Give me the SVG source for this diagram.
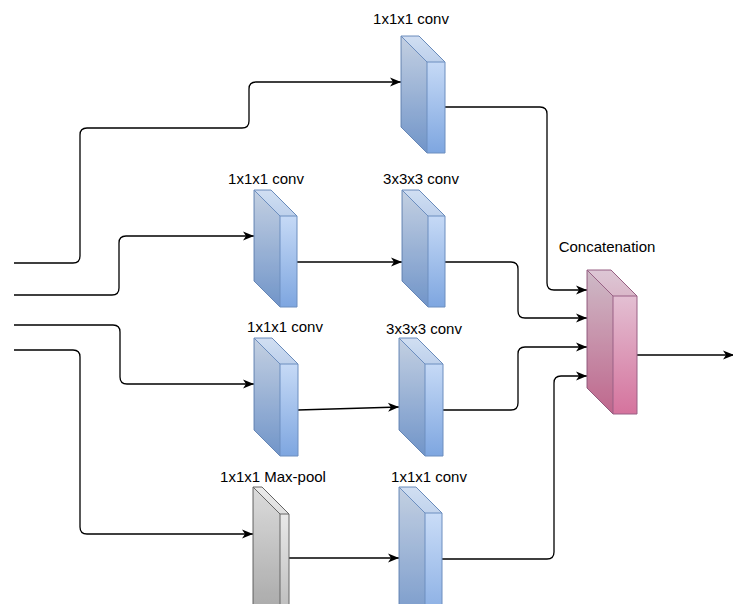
<svg xmlns="http://www.w3.org/2000/svg" width="733" height="604" viewBox="0 0 733 604">
<defs>
<linearGradient id="gBlue" x1="0" y1="0" x2="0" y2="1"><stop offset="0" stop-color="#dae8fc"/><stop offset="1" stop-color="#7ea6e0"/></linearGradient>
<linearGradient id="gPink" x1="0" y1="0" x2="0" y2="1"><stop offset="0" stop-color="#e6d0de"/><stop offset="1" stop-color="#d5739d"/></linearGradient>
<linearGradient id="gGray" x1="0" y1="0" x2="0" y2="1"><stop offset="0" stop-color="#f5f5f5"/><stop offset="1" stop-color="#b3b3b3"/></linearGradient>
<marker id="arr" viewBox="-12 -6 13 12" refX="0" refY="0" markerWidth="13" markerHeight="12" markerUnits="userSpaceOnUse" orient="auto">
<path d="M0,0 L-11,-4.5 L-8,0 L-11,4.5 Z" fill="#000"/>
</marker>
<style>
.lbl{font-family:"Liberation Sans",Arial,sans-serif;font-size:15px;fill:#000;text-anchor:middle}
.blue .o{fill:url(#gBlue);stroke:#6c8ebf}
.pink .o{fill:url(#gPink);stroke:#996185}
.gray .o{fill:url(#gGray);stroke:#666666}
.side{fill:#000;fill-opacity:0.1;stroke:none}
.top{fill:#000;fill-opacity:0.04;stroke:none}
.blue .e{fill:none;stroke:#6c8ebf}
.pink .e{fill:none;stroke:#996185}
.gray .e{fill:none;stroke:#666666}
.c{fill:none;stroke:#000;stroke-width:1.3;marker-end:url(#arr)}
.cn{fill:none;stroke:#000;stroke-width:1.3}
</style>
</defs>
<rect width="733" height="604" fill="#fff"/>

<g id="connectors">
<path class="c" d="M14,263 H73 Q80,263 80,256 V135 Q80,128 87,128 H242 Q249,128 249,121 V89 Q249,82 256,82 H401"/>
<path class="c" d="M14,295 H112 Q119,295 119,288 V243 Q119,236 126,236 H254"/>
<path class="c" d="M14,325 H113 Q120,325 120,332 V377 Q120,384 127,384 H254"/>
<path class="c" d="M14,350 H73 Q80,350 80,357 V527 Q80,534 87,534 H253"/>
<path class="c" d="M297,262 H402"/>
<path class="c" d="M298,410 L399,407"/>
<path class="c" d="M289,558 H399"/>
<path class="c" d="M445,107 H540 Q547,107 547,114 V283 Q547,290 554,290 H587"/>
<path class="c" d="M445,262 H511 Q518,262 518,269 V311 Q518,318 525,318 H587"/>
<path class="c" d="M443,410 H511 Q518,410 518,403 V354 Q518,347 525,347 H587"/>
<path class="c" d="M442,559 H547 Q554,559 554,552 V383 Q554,376 561,376 H587"/>
<path class="c" d="M637,355 H734"/>
</g>

<g id="conv-top" class="blue">
<path class="o" d="M401,36 L419,36 L445,62 L445,153 L427,153 L401,127 Z"/>
<path class="side" d="M401,36 L427,62 L427,153 L401,127 Z"/>
<path class="top" d="M401,36 L419,36 L445,62 L427,62 Z"/>
<path class="e" d="M401,36 L427,62 L445,62 M427,62 L427,153"/>
<text class="lbl" x="411" y="24">1x1x1 conv</text>
</g>

<g id="conv-b1" class="blue">
<path class="o" d="M254,190 L271,190 L297,216 L297,307 L280,307 L254,281 Z"/>
<path class="side" d="M254,190 L280,216 L280,307 L254,281 Z"/>
<path class="top" d="M254,190 L271,190 L297,216 L280,216 Z"/>
<path class="e" d="M254,190 L280,216 L297,216 M280,216 L280,307"/>
<text class="lbl" x="266" y="184">1x1x1 conv</text>
</g>

<g id="conv-b2" class="blue">
<path class="o" d="M402,190 L419,190 L445,216 L445,307 L428,307 L402,281 Z"/>
<path class="side" d="M402,190 L428,216 L428,307 L402,281 Z"/>
<path class="top" d="M402,190 L419,190 L445,216 L428,216 Z"/>
<path class="e" d="M402,190 L428,216 L445,216 M428,216 L428,307"/>
<text class="lbl" x="421" y="184">3x3x3 conv</text>
</g>

<g id="conv-c1" class="blue">
<path class="o" d="M254,338 L272,338 L298,364 L298,456 L280,456 L254,430 Z"/>
<path class="side" d="M254,338 L280,364 L280,456 L254,430 Z"/>
<path class="top" d="M254,338 L272,338 L298,364 L280,364 Z"/>
<path class="e" d="M254,338 L280,364 L298,364 M280,364 L280,456"/>
<text class="lbl" x="285" y="332">1x1x1 conv</text>
</g>

<g id="conv-c2" class="blue">
<path class="o" d="M399,338 L417,338 L443,364 L443,456 L425,456 L399,430 Z"/>
<path class="side" d="M399,338 L425,364 L425,456 L399,430 Z"/>
<path class="top" d="M399,338 L417,338 L443,364 L425,364 Z"/>
<path class="e" d="M399,338 L425,364 L443,364 M425,364 L425,456"/>
<text class="lbl" x="424" y="334">3x3x3 conv</text>
</g>

<g id="maxpool" class="gray">
<path class="o" d="M253,487 L262,487 L289,514 L289,634 L280,634 L253,607 Z"/>
<path class="side" d="M253,487 L280,514 L280,634 L253,607 Z"/>
<path class="top" d="M253,487 L262,487 L289,514 L280,514 Z"/>
<path class="e" d="M253,487 L280,514 L289,514 M280,514 L280,634"/>
<text class="lbl" x="273" y="482">1x1x1 Max-pool</text>
</g>

<g id="conv-d" class="blue">
<path class="o" d="M399,487 L416,487 L442,513 L442,634 L425,634 L399,608 Z"/>
<path class="side" d="M399,487 L425,513 L425,634 L399,608 Z"/>
<path class="top" d="M399,487 L416,487 L442,513 L425,513 Z"/>
<path class="e" d="M399,487 L425,513 L442,513 M425,513 L425,634"/>
<text class="lbl" x="429" y="482">1x1x1 conv</text>
</g>

<g id="concat" class="pink">
<path class="o" d="M587,270 L611,270 L637,296 L637,414 L613,414 L587,388 Z"/>
<path class="side" d="M587,270 L613,296 L613,414 L587,388 Z"/>
<path class="top" d="M587,270 L611,270 L637,296 L613,296 Z"/>
<path class="e" d="M587,270 L613,296 L637,296 M613,296 L613,414"/>
<text class="lbl" x="607" y="252">Concatenation</text>
</g>
</svg>
